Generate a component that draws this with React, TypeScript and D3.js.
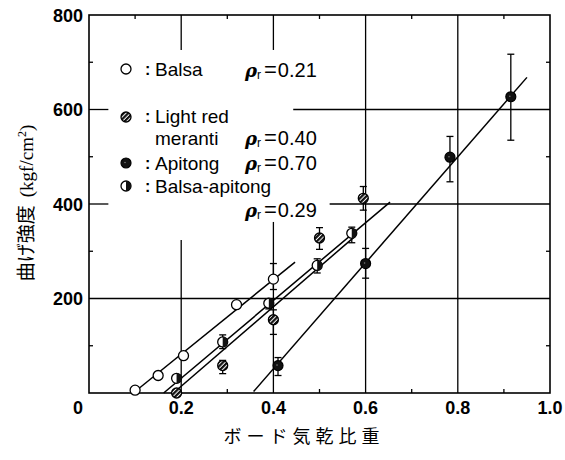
import React from "react";
import * as d3 from "d3";

// Board air-dry specific gravity vs. bending strength (kgf/cm²)
const balsaSG = [0.1, 0.15, 0.205, 0.32, 0.4];
const balsaMOR = [6, 37, 79, 187, 241];
const balsaLow = [null, null, null, null, 219];
const balsaHigh = [null, null, null, null, 274];

const merantiSG = [0.19, 0.29, 0.4, 0.5, 0.595];
const merantiMOR = [0, 58, 155, 328, 412];
const merantiLow = [null, 41, 124, 304, 387];
const merantiHigh = [null, 69, 176, 350, 437];

const apitongSG = [0.41, 0.6, 0.783, 0.915];
const apitongMOR = [58, 274, 499, 627];
const apitongLow = [37, 243, 447, 535];
const apitongHigh = [75, 306, 543, 717];

const mixSG = [0.19, 0.29, 0.39, 0.495, 0.57];
const mixMOR = [31, 108, 190, 270, 338];
const mixLow = [null, 94, 178, 254, 318];
const mixHigh = [null, 123, 196, 284, 351];

// fitted lines: [sg0, mor0, sg1, mor1]
const balsaFit = [0.096, 0, 0.447, 277];
const merantiFit = [0.183, 0, 0.575, 330];
const mixFit = [0.162, 0, 0.653, 404];
const apitongFit = [0.357, 3, 0.95, 668];

const xTicks = [0.2, 0.4, 0.6, 0.8, 1.0];
const yTicks = [200, 400, 600, 800];
const xMinor = [0.1, 0.3, 0.5, 0.7, 0.9];
const yMinor = [100, 300, 500, 700];

const legendNames = ["Balsa", "Light red", "Apitong", "Balsa-apitong"];
const legendRho = ["0.21", "0.40", "0.70", "0.29"];

const W = 565;
const H = 460;
const x = d3.scaleLinear().domain([0, 1]).range([89, 550]);
const y = d3.scaleLinear().domain([0, 800]).range([393, 15]);

const FONT = "'Liberation Sans', Arial, Helvetica, sans-serif";
const R = 5;

type Kind = "open" | "hatch" | "solid" | "half";

function Marker({ cx, cy, kind }: { cx: number; cy: number; kind: Kind }) {
  if (kind === "open")
    return <circle cx={cx} cy={cy} r={R} fill="#fff" stroke="#000" strokeWidth={1.3} />;
  if (kind === "solid")
    return (
      <g>
        <circle cx={cx} cy={cy} r={R} fill="#111" stroke="#000" strokeWidth={1.2} />
        <circle cx={cx - 1} cy={cy - 0.5} r={0.8} fill="#777" />
      </g>
    );
  if (kind === "hatch")
    return <circle cx={cx} cy={cy} r={R} fill="url(#hatch)" stroke="#000" strokeWidth={1.3} />;
  const p = d3.path();
  p.arc(cx, cy, R, -Math.PI / 2, Math.PI / 2);
  p.closePath();
  return (
    <g>
      <circle cx={cx} cy={cy} r={R} fill="#fff" stroke="#000" strokeWidth={1.3} />
      <path d={p.toString()} fill="#111" />
    </g>
  );
}

function Series({
  sg, mor, low, high, kind,
}: {
  sg: number[]; mor: number[]; low: (number | null)[]; high: (number | null)[]; kind: Kind;
}) {
  return (
    <g>
      {sg.map((s, i) => {
        const cx = x(s);
        const lo = low[i];
        const hi = high[i];
        return (
          <g key={i}>
            {lo != null && hi != null && (
              <g stroke="#000" strokeWidth={1.3}>
                <line x1={cx} x2={cx} y1={y(lo)} y2={y(hi)} />
                <line x1={cx - 3.5} x2={cx + 3.5} y1={y(lo)} y2={y(lo)} />
                <line x1={cx - 3.5} x2={cx + 3.5} y1={y(hi)} y2={y(hi)} />
              </g>
            )}
            <Marker cx={cx} cy={y(mor[i])} kind={kind} />
          </g>
        );
      })}
    </g>
  );
}

function Fit({ f }: { f: number[] }) {
  return (
    <line x1={x(f[0])} y1={y(f[1])} x2={x(f[2])} y2={y(f[3])} stroke="#000" strokeWidth={1.5} />
  );
}

function Rho({ tx, ty, v }: { tx: number; ty: number; v: string }) {
  return (
    <text x={tx} y={ty} fontFamily={FONT} fontSize={20} fill="#000">
      <tspan fontFamily="'DejaVu Serif', serif" fontStyle="italic" fontWeight="bold" fontSize={18}>ρ</tspan>
      <tspan fontSize={12} dy={2}>r</tspan>
      <tspan dy={-2} dx={3} fontSize={22}>=</tspan>
      <tspan dx={1}>{v}</tspan>
    </text>
  );
}

export default function App() {
  // grid segments (data units), some interrupted by the key
  const hGrid: [number, number, number][] = [
    [200, 0, 1],
    [400, 0, 0.042],
    [400, 0.522, 1],
    [600, 0, 0.042],
    [600, 0.443, 1],
  ];
  const vGrid: [number, number, number][] = [
    [0.2, 0, 324],
    [0.2, 726, 800],
    [0.4, 0, 362],
    [0.4, 726, 800],
    [0.6, 0, 800],
    [0.8, 0, 800],
  ];
  const legendY = [76, 123, 170, 193];
  const markerY = [69, 117, 163, 186];
  const kinds: Kind[] = ["open", "hatch", "solid", "half"];

  return (
    <svg width={W} height={H} style={{ position: "absolute", left: 0, top: 0, background: "#fff" }}>
      <defs>
        <pattern id="hatch" width={3.2} height={3.2} patternUnits="userSpaceOnUse" patternTransform="rotate(45)">
          <rect width={3.2} height={3.2} fill="#fff" />
          <rect width={2.2} height={3.2} fill="#111" />
        </pattern>
      </defs>
      <rect width={W} height={H} fill="#fff" />

      {/* grid */}
      <g stroke="#000" strokeWidth={1.3}>
        {hGrid.map(([v, a, b], i) => (
          <line key={"h" + i} x1={x(a)} x2={x(b)} y1={y(v)} y2={y(v)} />
        ))}
        {vGrid.map(([v, a, b], i) => (
          <line key={"v" + i} x1={x(v)} x2={x(v)} y1={y(a)} y2={y(b)} />
        ))}
        {xMinor.map((v) => (
          <g key={"xm" + v}>
            <line x1={x(v)} x2={x(v)} y1={y(0)} y2={y(0) - 4} />
            <line x1={x(v)} x2={x(v)} y1={y(800)} y2={y(800) + 4} />
          </g>
        ))}
        {yMinor.map((v) => (
          <g key={"ym" + v}>
            <line x1={x(0)} x2={x(0) + 4} y1={y(v)} y2={y(v)} />
            <line x1={x(1)} x2={x(1) - 4} y1={y(v)} y2={y(v)} />
          </g>
        ))}
      </g>
      <rect x={x(0)} y={y(800)} width={x(1) - x(0)} height={y(0) - y(800)} fill="none" stroke="#000" strokeWidth={1.6} />

      {/* fitted lines */}
      <Fit f={balsaFit} />
      <Fit f={merantiFit} />
      <Fit f={mixFit} />
      <Fit f={apitongFit} />

      {/* data */}
      <Series sg={balsaSG} mor={balsaMOR} low={balsaLow} high={balsaHigh} kind="open" />
      <Series sg={mixSG} mor={mixMOR} low={mixLow} high={mixHigh} kind="half" />
      <Series sg={merantiSG} mor={merantiMOR} low={merantiLow} high={merantiHigh} kind="hatch" />
      <Series sg={apitongSG} mor={apitongMOR} low={apitongLow} high={apitongHigh} kind="solid" />

      {/* key */}
      {kinds.map((k, i) => (
        <g key={"k" + i}>
          <Marker cx={126} cy={markerY[i]} kind={k} />
          <text x={145} y={legendY[i] - 1} fontFamily={FONT} fontSize={16} fontWeight="bold">:</text>
          <text x={155} y={legendY[i]} fontFamily={FONT} fontSize={19}>{legendNames[i]}</text>
        </g>
      ))}
      <text x={155} y={145} fontFamily={FONT} fontSize={19}>meranti</text>
      <Rho tx={245} ty={77} v={legendRho[0]} />
      <Rho tx={245} ty={145} v={legendRho[1]} />
      <Rho tx={245} ty={170} v={legendRho[2]} />
      <Rho tx={245} ty={217} v={legendRho[3]} />

      {/* axis labels */}
      <g fontFamily={FONT} fontSize={18} fontWeight="bold" fill="#000">
        {xTicks.map((v) => (
          <text key={"xt" + v} x={x(v)} y={414} textAnchor="middle">
            {d3.format(".1f")(v)}
          </text>
        ))}
        {yTicks.map((v) => (
          <text key={"yt" + v} x={83} y={y(v) + 6.5} textAnchor="end">
            {v}
          </text>
        ))}
        <text x={78} y={414} textAnchor="middle">0</text>
      </g>

      <text x={304} y={443} textAnchor="middle" fontFamily="'Noto Sans CJK JP', sans-serif" fontSize={18} letterSpacing={5}>
        ボード気乾比重
      </text>
      <text
        transform={`translate(33,${203}) rotate(-90)`}
        textAnchor="middle"
        fontSize={19}
        fontFamily="'Noto Sans CJK JP', sans-serif"
      >
        曲げ強度
        <tspan fontFamily="'Liberation Serif', 'DejaVu Serif', serif" dx={8}>(kgf/cm</tspan>
        <tspan fontFamily="'Liberation Serif', 'DejaVu Serif', serif" fontSize={12} dy={-7}>2</tspan>
        <tspan fontFamily="'Liberation Serif', 'DejaVu Serif', serif" dy={7}>)</tspan>
      </text>
    </svg>
  );
}
